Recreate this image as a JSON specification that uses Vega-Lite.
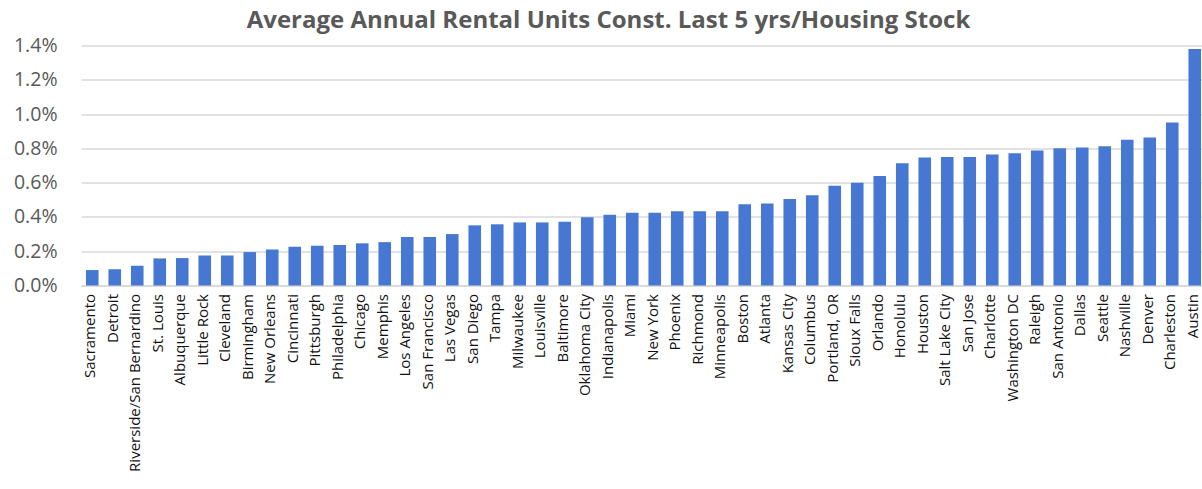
{
  "$schema": "https://vega.github.io/schema/vega-lite/v6.json",
  "width": 1125,
  "height": 240,
  "autosize": {"type": "none"},
  "padding": {"left": 81, "top": 45.5, "right": 0, "bottom": 203.5},
  "background": "white",
  "title": {
    "text": "Average Annual Rental Units Const. Last 5 yrs/Housing Stock",
    "font": "Open Sans",
    "fontSize": 24,
    "fontWeight": "bold",
    "color": "#595959",
    "anchor": "middle",
    "frame": "group",
    "dx": -35,
    "baseline": "alphabetic",
    "offset": -16
  },
  "data": {
    "values": [
      {"city": "Sacramento", "value": 0.0009},
      {"city": "Detroit", "value": 0.00095},
      {"city": "Riverside/San Bernardino", "value": 0.00115},
      {"city": "St. Louis", "value": 0.00158},
      {"city": "Albuquerque", "value": 0.0016},
      {"city": "Little Rock", "value": 0.00175},
      {"city": "Cleveland", "value": 0.00175},
      {"city": "Birmingham", "value": 0.00195},
      {"city": "New Orleans", "value": 0.0021},
      {"city": "Cincinnati", "value": 0.00226},
      {"city": "Pittsburgh", "value": 0.00232},
      {"city": "Philadelphia", "value": 0.00236},
      {"city": "Chicago", "value": 0.00246},
      {"city": "Memphis", "value": 0.00253},
      {"city": "Los Angeles", "value": 0.00283},
      {"city": "San Francisco", "value": 0.00283},
      {"city": "Las Vegas", "value": 0.003},
      {"city": "San Diego", "value": 0.00351},
      {"city": "Tampa", "value": 0.00357},
      {"city": "Milwaukee", "value": 0.00368},
      {"city": "Louisville", "value": 0.00368},
      {"city": "Baltimore", "value": 0.00372},
      {"city": "Oklahoma City", "value": 0.00398},
      {"city": "Indianapolis", "value": 0.00413},
      {"city": "Miami", "value": 0.00425},
      {"city": "New York", "value": 0.00425},
      {"city": "Phoenix", "value": 0.00433},
      {"city": "Richmond", "value": 0.00433},
      {"city": "Minneapolis", "value": 0.00433},
      {"city": "Boston", "value": 0.00474},
      {"city": "Atlanta", "value": 0.00478},
      {"city": "Kansas City", "value": 0.00505},
      {"city": "Columbus", "value": 0.00526},
      {"city": "Portland, OR", "value": 0.00582},
      {"city": "Sioux Falls", "value": 0.006},
      {"city": "Orlando", "value": 0.00639},
      {"city": "Honolulu", "value": 0.00713},
      {"city": "Houston", "value": 0.00747},
      {"city": "Salt Lake City", "value": 0.00749},
      {"city": "San Jose", "value": 0.0075},
      {"city": "Charlotte", "value": 0.00764},
      {"city": "Washington DC", "value": 0.00772},
      {"city": "Raleigh", "value": 0.00787},
      {"city": "San Antonio", "value": 0.00801},
      {"city": "Dallas", "value": 0.00805},
      {"city": "Seattle", "value": 0.00813},
      {"city": "Nashville", "value": 0.0085},
      {"city": "Denver", "value": 0.00864},
      {"city": "Charleston", "value": 0.00951},
      {"city": "Austin", "value": 0.0138}
    ]
  },
  "mark": {"type": "bar", "color": "#4677d2"},
  "encoding": {
    "x": {
      "field": "city",
      "type": "nominal",
      "sort": null,
      "scale": {"paddingInner": 0.44, "paddingOuter": 0.22},
      "axis": {
        "title": null,
        "labelAngle": -90,
        "labelFont": "Open Sans",
        "labelFontSize": 15,
        "labelColor": "#111111",
        "labelPadding": 8,
        "labelLimit": 0,
        "labelOffset": -2,
        "ticks": false,
        "domain": true,
        "domainColor": "#d9d9d9",
        "domainWidth": 1.5,
        "labelOverlap": false
      }
    },
    "y": {
      "field": "value",
      "type": "quantitative",
      "scale": {"domain": [0, 0.014], "nice": false},
      "axis": {
        "title": null,
        "format": ".1%",
        "values": [0, 0.002, 0.004, 0.006, 0.008, 0.01, 0.012, 0.014],
        "labelFont": "Open Sans",
        "labelFontSize": 19.5,
        "labelColor": "#595959",
        "labelPadding": 24,
        "ticks": false,
        "domain": false,
        "gridColor": "#d9d9d9",
        "gridWidth": 1.5
      }
    }
  },
  "config": {"view": {"stroke": null}}
}
